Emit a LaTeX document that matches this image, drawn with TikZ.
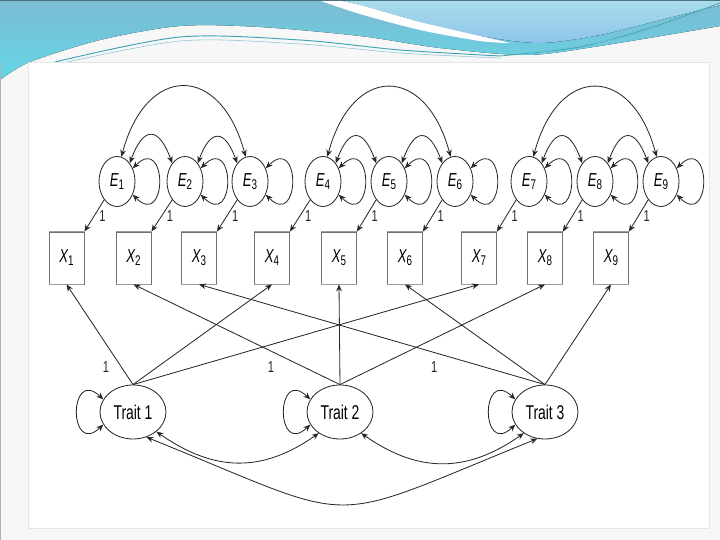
\documentclass[tikz,border=0pt]{standalone}
\usepackage{fontspec}
\usepackage{tikz}
\usetikzlibrary{arrows.meta,positioning,shapes.geometric}
\newfontfamily\semfont[FakeStretch=0.7]{Liberation Sans}
\newcommand\semsub[1]{\raisebox{-0.3ex}{\fontsize{12}{12}\selectfont #1}}
\definecolor{linec}{HTML}{262626}
\definecolor{boxc}{HTML}{707070}
\definecolor{boxedge}{HTML}{9C9C9C}
\definecolor{slidebg}{HTML}{F7F7F7}
\definecolor{waveA}{HTML}{7DBBD3}
\definecolor{waveB}{HTML}{63D6E5}
\definecolor{waveC}{HTML}{A9DDEA}
\definecolor{waveD}{HTML}{8CC4EC}
\definecolor{wline}{HTML}{3FA3B5}
\tikzset{
  ar/.style={-{Stealth[length=2.1mm,width=1.7mm]},line width=0.7pt,linec},
  dar/.style={{Stealth[length=2.1mm,width=1.7mm]}-{Stealth[length=2.1mm,width=1.7mm]},line width=0.7pt,linec},
  errnd/.style={ellipse,draw=linec,line width=0.7pt,minimum width=1.08cm,minimum height=1.5cm,inner sep=0pt,font=\semfont\fontsize{16}{16}\selectfont},
  obsbox/.style={rectangle,draw=boxc,line width=0.7pt,minimum width=1.05cm,minimum height=1.56cm,inner sep=0pt,font=\semfont\fontsize{16}{16}\selectfont},
  traitnd/.style={ellipse,draw=linec,line width=0.7pt,minimum width=1.98cm,minimum height=1.62cm,inner sep=0pt,font=\semfont\fontsize{17}{17}\selectfont},
  lab/.style={inner sep=1pt,linec,font=\semfont\fontsize{13.5}{13.5}\selectfont}
}
\begin{document}
\begin{tikzpicture}[x=0.03cm,y=0.03cm]
\useasboundingbox (0,0) rectangle (720,540);
% slide background and wave header
\fill[slidebg] (0,0) rectangle (720,540);
\fill[top color=waveA,bottom color=waveB] plot[smooth] coordinates {(0,460) (30,478) (100,500) (180,514) (260,513) (360,504) (440,492) (527,485) (600,494) (720,514)} -- (720,540) -- (0,540) -- cycle;
\fill[top color=waveC,bottom color=waveD] (335,540) -- (720,540) -- plot[smooth] coordinates {(720,535) (660,520) (600,505) (540,497) (480,504) (420,518) (360,535) (335,540)} -- cycle;
\fill[white] plot[smooth] coordinates {(318,540) (360,526) (420,510) (480,499) (510,497)} -- plot[smooth] coordinates {(480,504) (420,518) (360,535) (335,540)} -- cycle;
\draw[wline,line width=0.8pt] plot[smooth] coordinates {(55,478) (180,503) (300,500) (400,490) (500,484)};
\draw[wline!60,line width=0.5pt] plot[smooth] coordinates {(45,473) (180,499) (300,496) (400,487) (500,482)};
\draw[wline,line width=0.6pt] plot[smooth] coordinates {(500,484) (580,493) (650,512) (720,537)};
\draw[wline!70,line width=0.5pt] plot[smooth] coordinates {(540,488) (620,502) (720,532)};
\draw[waveA!60!black,line width=1pt] (0,539.6) -- (720,539.6);
\fill[white] (28,12) rectangle (709,478);
\draw[gray!20] (28,12) rectangle (709,478);
\draw[gray!60,line width=1pt] (0.5,0) -- (0.5,478);

% error terms and indicators
\foreach \i/\ex/\xx in {1/117/66.5,2/185/133.5,3/250/199,4/323/272,5/389/339,6/455/405,7/529/479,8/595/545,9/661/611} {
  \node[errnd] (e\i) at (\ex,358.5) {{\itshape E}\semsub{\i}};
  \node[obsbox] (x\i) at (\xx,282) {{\itshape X}\semsub{\i}};
  \draw[boxedge,line width=1.4pt] (x\i.north west) -- (x\i.north east) (x\i.south west) -- (x\i.south east);
  \draw[ar] (e\i.235) -- (x\i.north east) node[lab,midway,right=3pt]{1};
  \draw[dar] (e\i.40) .. controls +(35,35) and +(35,-35) .. (e\i.-40);
}
\foreach \a/\b/\c in {1/2/3,4/5/6,7/8/9} {
  \draw[dar] (e\a.55) to[out=70,in=110,looseness=2.4] (e\b.125);
  \draw[dar] (e\b.55) to[out=70,in=110,looseness=2.4] (e\c.125);
  \draw[dar] (e\a.80) to[out=75,in=105,looseness=2] (e\c.100);
}

% traits
\node[traitnd] (t1) at (133,128) {Trait 1};
\node[traitnd] (t2) at (340,128) {Trait 2};
\node[traitnd] (t3) at (545,128) {Trait 3};
\draw[ar] (t1.north) -- (x1.south) node[lab,pos=0.3,below left=5pt and 2pt]{1};
\draw[ar] (t1.north) -- (x4.south);
\draw[ar] (t1.north) -- (x7.south);
\draw[ar] (t2.north) -- (x2.south) node[lab,pos=0.3,below left=5pt and 2pt]{1};
\draw[ar] (t2.north) -- (x5.south);
\draw[ar] (t2.north) -- (x8.south);
\draw[ar] (t3.north) -- (x3.south) node[lab,pos=0.3,below left=5pt and 2pt]{1};
\draw[ar] (t3.north) -- (x6.south);
\draw[ar] (t3.north) -- (x9.south);
\draw[dar] (t1.157) .. controls +(-35,33) and +(-35,-33) .. (t1.203);
\draw[dar] (t2.157) .. controls +(-35,33) and +(-35,-33) .. (t2.203);
\draw[dar] (t3.157) .. controls +(-35,33) and +(-35,-33) .. (t3.203);
\draw[dar] (t1.-40) to[out=-35,in=-145,looseness=1.1] (t2.-135);
\draw[dar] (t2.-45) to[out=-35,in=-145,looseness=1.1] (t3.-135);
\draw[dar] (t1.-62) to[out=-22,in=-158,looseness=1.55] (t3.-106);
\end{tikzpicture}
\end{document}
